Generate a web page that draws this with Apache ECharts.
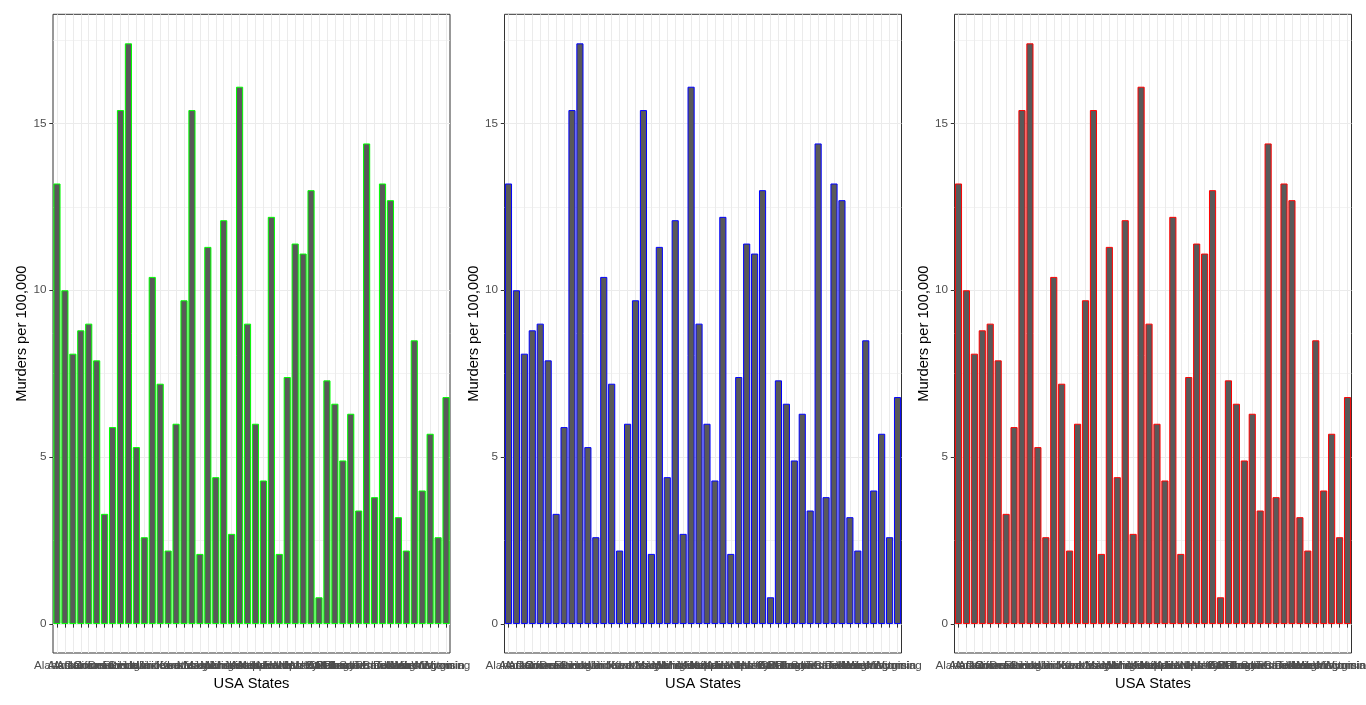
<!DOCTYPE html>
<html><head><meta charset="utf-8">
<script src="https://cdn.jsdelivr.net/npm/echarts@6/dist/echarts.min.js"></script>
<style>html,body{margin:0;padding:0;background:#fff}#c{width:1366px;height:705px}</style>
</head><body><div id="c"></div>
<script>
const states = ["Alabama","Alaska","Arizona","Arkansas","California","Colorado","Connecticut","Delaware","Florida","Georgia","Hawaii","Idaho","Illinois","Indiana","Iowa","Kansas","Kentucky","Louisiana","Maine","Maryland","Massachusetts","Michigan","Minnesota","Mississippi","Missouri","Montana","Nebraska","Nevada","New Hampshire","New Jersey","New Mexico","New York","North Carolina","North Dakota","Ohio","Oklahoma","Oregon","Pennsylvania","Rhode Island","South Carolina","South Dakota","Tennessee","Texas","Utah","Vermont","Virginia","Washington","West Virginia","Wisconsin","Wyoming"];
const murder = [13.2,10.0,8.1,8.8,9.0,7.9,3.3,5.9,15.4,17.4,5.3,2.6,10.4,7.2,2.2,6.0,9.7,15.4,2.1,11.3,4.4,12.1,2.7,16.1,9.0,6.0,4.3,12.2,2.1,7.4,11.4,11.1,13.0,0.8,7.3,6.6,4.9,6.3,3.4,14.4,3.8,13.2,12.7,3.2,2.2,8.5,4.0,5.7,2.6,6.8];
const yTicks = [0, 5, 10, 15];
const yMinor = [2.5, 7.5, 12.5, 17.5];
const borderColors = ['#00FF00', '#0000FF', '#FF0000'];
const xTitle = 'USA States';
const yTitle = 'Murders per 100,000';

const panelLefts = [53, 504.5, 954.5];
const panelWidth = 397;
const panelTop = 14.3;
const panelHeight = 638.7;
const dmax = Math.max(...murder);
const yMax = dmax * 1.05, yMin = -dmax * 0.05;
const FONT = '"Liberation Sans", Arial, sans-serif';

const grid = [], xAxis = [], yAxis = [], series = [];
panelLefts.forEach((l, i) => {
  grid.push({left: l, top: panelTop, width: panelWidth, height: panelHeight, show: true,
    borderColor: '#333333', borderWidth: 1, backgroundColor: 'transparent',
    containLabel: false, outerBoundsMode: 'none'});
  xAxis.push({type: 'category', gridIndex: i, data: states, boundaryGap: true,
    name: xTitle, nameLocation: 'middle', nameGap: 21,
    nameTextStyle: {color: '#000', fontSize: 14.7, fontFamily: FONT},
    axisLine: {show: false},
    axisTick: {show: true, alignWithLabel: true, interval: 0, length: 3.7, lineStyle: {color: '#333333', width: 1}},
    axisLabel: {show: true, interval: 0, hideOverlap: false, margin: 7, color: '#4D4D4D', fontSize: 11.7, fontFamily: FONT},
    splitLine: {show: true, alignWithLabel: true, interval: 0, lineStyle: {color: '#EBEBEB', width: 1}}
  });
  // minor gridlines axis
  yAxis.push({type: 'value', gridIndex: i, min: yMin, max: yMax, position: 'left',
    axisLine: {show: false},
    axisTick: {show: false, customValues: yMinor},
    axisLabel: {show: false, customValues: yMinor},
    splitLine: {show: true, lineStyle: {color: '#EBEBEB', width: 0.6}}
  });
  yAxis.push({type: 'value', gridIndex: i, min: yMin, max: yMax, position: 'left',
    name: yTitle, nameLocation: 'middle', nameGap: 23, nameRotate: 90,
    nameTextStyle: {color: '#000', fontSize: 14.7, fontFamily: FONT},
    axisLine: {show: false},
    axisTick: {show: true, customValues: yTicks, length: 3.7, lineStyle: {color: '#333333', width: 1}},
    axisLabel: {show: true, customValues: yTicks, margin: 6.6, color: '#4D4D4D', fontSize: 11.7, fontFamily: FONT},
    splitLine: {show: true, lineStyle: {color: '#EBEBEB', width: 1}}
  });
  series.push({type: 'bar', xAxisIndex: i, yAxisIndex: 2 * i + 1, data: murder, z: 3,
    barCategoryGap: '10%',
    itemStyle: {color: '#595959', borderColor: borderColors[i], borderWidth: 1}
  });
});

const chart = echarts.init(document.getElementById('c'), null, {renderer: 'canvas'});
chart.setOption({animation: false, backgroundColor: '#ffffff', grid, xAxis, yAxis, series});
</script>
</body></html>
